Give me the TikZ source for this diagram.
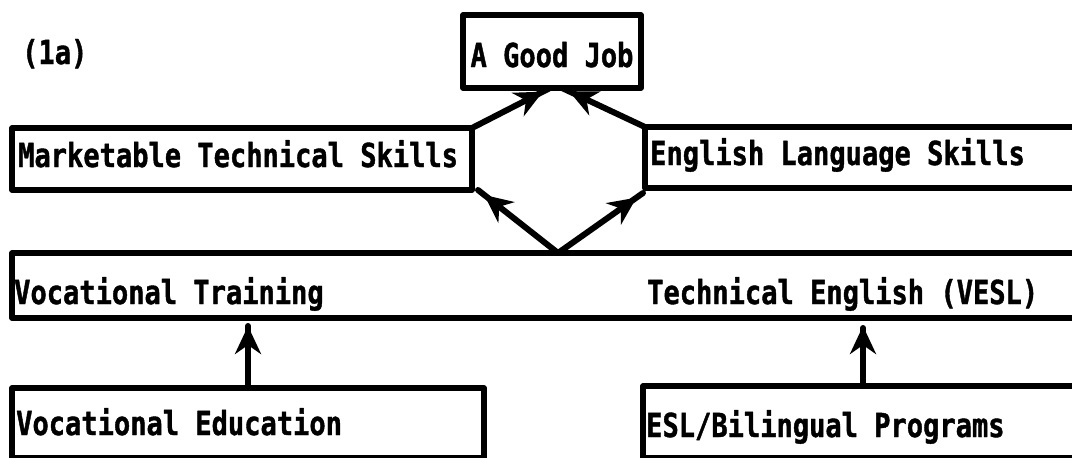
\documentclass[tikz,border=0pt]{standalone}
\usepackage{fontspec}
\setmonofont{DejaVu Sans Mono}[FakeStretch=0.82,FakeBold=1.2]
\usetikzlibrary{arrows.meta,calc,decorations.markings}
\begin{document}
\begin{tikzpicture}[x=1pt,y=-1pt,line join=round,
  box/.style={draw, rectangle, line width=5.5pt, inner sep=0pt, outer sep=0pt, anchor=north west},
  lbl/.style={inner sep=0pt, anchor=base west, font=\fontsize{33}{38}\selectfont\ttfamily\bfseries},
  arr/.style={line width=6pt, line cap=round, postaction={decorate},
    decoration={markings, mark=at position -8pt with {\arrow{Stealth[length=28pt,width=26pt,inset=9pt]}}}}]
\clip (0,0) rectangle (1072,458);
\fill[white] (0,0) rectangle (1072,458);
% boxes
\node[box, minimum width=178pt, minimum height=73pt] (agj) at (463,15) {};
\node[box, minimum width=460pt, minimum height=62pt] (mts) at (12,128) {};
\node[box, minimum width=450pt, minimum height=61pt] (els) at (645,127) {};
\node[box, minimum width=1083pt, minimum height=65pt] (vt) at (12,253) {};
\node[box, minimum width=472pt, minimum height=70pt] (ve) at (12,388) {};
\node[box, minimum width=440pt, minimum height=72pt] (esl) at (643,386) {};
% labels
\node[lbl] (t1a) at (22,64) {(1a)};
\node[lbl, anchor=base] (tagj) at (552,67) {A Good Job};
\node[lbl] (tmts) at (18,167) {Marketable Technical Skills};
\node[lbl] (tels) at (650,165) {English Language Skills};
\node[lbl] (tvt) at (14,304) {Vocational Training};
\node[lbl] (tte) at (647,304) {Technical English (VESL)};
\node[lbl] (tve) at (16,435) {Vocational Education};
\node[lbl] (tesl) at (646,437) {ESL/Bilingual Programs};
% connectors
\coordinate (apex) at (558,253);
\draw[arr] (mts.north east) -- ($(agj.south)+(-2,0)$);
\draw[arr] (els.north west) -- ($(agj.south)+(10,0)$);
\draw[arr] (apex) -- ($(mts.south east)+(6,0)$);
\draw[arr] (apex) -- ($(els.south west)+(-2,5)$);
\draw[arr, shorten >=8pt] (ve.north) -- (ve.north |- vt.south);
\draw[arr, shorten >=10pt] (esl.north) -- (esl.north |- vt.south);
\end{tikzpicture}
\end{document}
